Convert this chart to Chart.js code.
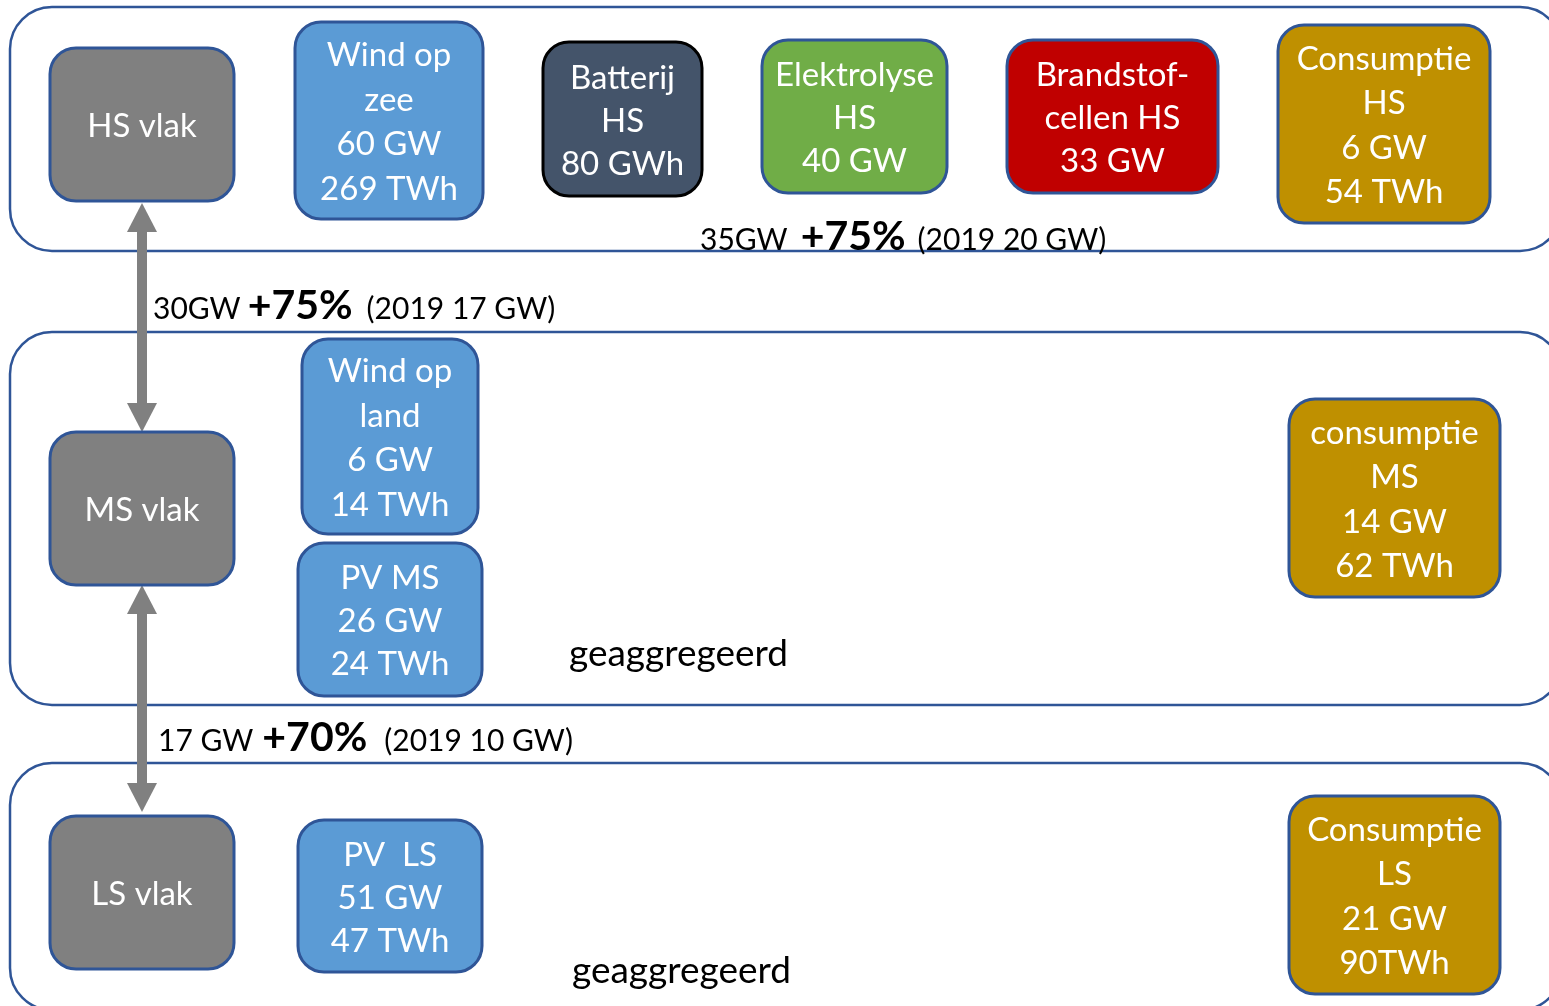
<!DOCTYPE html>
<html>
<head>
<meta charset="utf-8">
<script src="https://cdn.jsdelivr.net/npm/chart.js@4/dist/chart.umd.min.js"></script>
<style>
html,body{margin:0;padding:0;background:#fff;}
canvas{display:block;}
</style>
</head>
<body>
<canvas id="c" width="1549" height="1006"></canvas>
<script>
// ---------- DATA ----------
const levels = ['HS', 'MS', 'LS'];
const boxTitles = [
  ['HS vlak'], ['Wind op', 'zee'], ['Batterij', 'HS'], ['Elektrolyse', 'HS'],
  ['Brandstof-', 'cellen HS'], ['Consumptie', 'HS'],
  ['MS vlak'], ['Wind op', 'land'], ['PV MS'], ['consumptie', 'MS'],
  ['LS vlak'], ['PV  LS'], ['Consumptie', 'LS']
];
const boxPower  = ['', '60 GW', '', '40 GW', '33 GW', '6 GW', '', '6 GW', '26 GW', '14 GW', '', '51 GW', '21 GW'];
const boxEnergy = ['', '269 TWh', '80 GWh', '', '', '54 TWh', '', '14 TWh', '24 TWh', '62 TWh', '', '47 TWh', '90TWh'];
const linkNow    = ['35GW', '30GW', '17 GW'];
const linkGrowth = ['+75%', '+75%', '+70%'];
const linkBase   = ['(2019 20 GW)', '(2019 17 GW)', '(2019 10 GW)'];
const aggLabels  = ['geaggregeerd', 'geaggregeerd'];

// ---------- LAYOUT (positions / styles) ----------
const layerRects = [[10, 7, 1562, 251], [10, 332, 1562, 705], [10, 763, 1562, 1010]];
const boxRects = [
  [50, 48, 234, 201], [295, 22, 483, 219], [543, 42, 702, 196], [762, 40, 947, 193],
  [1007, 40, 1218, 193], [1278, 25, 1490, 223],
  [50, 432, 234, 585], [302, 339, 478, 534], [298, 543, 482, 696], [1289, 399, 1500, 597],
  [50, 816, 234, 969], [298, 820, 482, 972], [1289, 796, 1500, 994]
];
const boxFill = ['#808080', '#5B9BD5', '#44546A', '#70AD47', '#C00000', '#BF9000',
  '#808080', '#5B9BD5', '#5B9BD5', '#BF9000', '#808080', '#5B9BD5', '#BF9000'];
const boxStroke = ['#2F5597', '#2F5597', '#000000', '#2F5597', '#2F5597', '#2F5597',
  '#2F5597', '#2F5597', '#2F5597', '#2F5597', '#2F5597', '#2F5597', '#2F5597'];
const linkPos = [[700, 250], [153, 319], [158, 751]];
const linkGaps = [[13, 12], [7, 14], [9, 17]];
const arrows = [[142, 203, 432], [142, 585, 812]];
const aggPos = [[569, 654], [572, 971]];

const FONT = 'Lato, "Open Sans", sans-serif';

const drawPlugin = {
  id: 'diagram',
  afterDraw(chart) {
    const ctx = chart.ctx;
    const xs = chart.scales.x, ys = chart.scales.y;
    const X = v => xs.getPixelForValue(v), Y = v => ys.getPixelForValue(v);
    ctx.save();
    // layer containers
    ctx.lineWidth = 2.5;
    ctx.strokeStyle = '#2F5597';
    layerRects.forEach(r => {
      ctx.beginPath();
      ctx.roundRect(X(r[0]), Y(r[1]), X(r[2]) - X(r[0]), Y(r[3]) - Y(r[1]), 42);
      ctx.stroke();
    });
    // arrows
    ctx.fillStyle = '#808080';
    arrows.forEach(a => {
      const cx = X(a[0]), y0 = Y(a[1]), y1 = Y(a[2]);
      const hw = 15, hl = 29, sw = 5;
      ctx.fillRect(cx - sw, y0 + hl - 1, sw * 2, y1 - y0 - 2 * hl + 2);
      ctx.beginPath();
      ctx.moveTo(cx, y0); ctx.lineTo(cx + hw, y0 + hl); ctx.lineTo(cx - hw, y0 + hl); ctx.closePath(); ctx.fill();
      ctx.beginPath();
      ctx.moveTo(cx, y1); ctx.lineTo(cx + hw, y1 - hl); ctx.lineTo(cx - hw, y1 - hl); ctx.closePath(); ctx.fill();
    });
    // boxes
    boxRects.forEach((r, i) => {
      const x0 = X(r[0]), y0 = Y(r[1]), w = X(r[2]) - x0, h = Y(r[3]) - y0;
      ctx.beginPath();
      ctx.roundRect(x0, y0, w, h, 26);
      ctx.fillStyle = boxFill[i];
      ctx.fill();
      ctx.lineWidth = 3;
      ctx.strokeStyle = boxStroke[i];
      ctx.stroke();
      const lines = boxTitles[i].concat([boxPower[i], boxEnergy[i]].filter(s => s));
      const lh = lines.length >= 4 ? 44.5 : 43;
      ctx.fillStyle = '#ffffff';
      ctx.font = '33px ' + FONT;
      ctx.textAlign = 'center';
      ctx.textBaseline = 'middle';
      const cx = x0 + w / 2, cy = y0 + h / 2 + 2;
      lines.forEach((t, k) => {
        ctx.fillText(t, cx, cy + (k - (lines.length - 1) / 2) * lh);
      });
    });
    // link labels
    ctx.fillStyle = '#000000';
    ctx.textAlign = 'left';
    ctx.textBaseline = 'alphabetic';
    linkNow.forEach((t, i) => {
      let x = X(linkPos[i][0]);
      const y = Y(linkPos[i][1]);
      ctx.font = '30px ' + FONT;
      ctx.fillText(t, x, y);
      x += ctx.measureText(t).width + linkGaps[i][0];
      ctx.font = 'bold 41px ' + FONT;
      ctx.fillText(linkGrowth[i], x, y);
      x += ctx.measureText(linkGrowth[i]).width + linkGaps[i][1];
      ctx.font = '30px ' + FONT;
      ctx.fillText(linkBase[i], x, y);
    });
    // aggregated labels
    ctx.font = '37px ' + FONT;
    ctx.textBaseline = 'middle';
    aggLabels.forEach((t, i) => ctx.fillText(t, X(aggPos[i][0]), Y(aggPos[i][1])));
    ctx.restore();
  }
};

new Chart(document.getElementById('c'), {
  type: 'scatter',
  data: { datasets: [{ data: [], pointRadius: 0 }] },
  options: {
    responsive: false,
    animation: false,
    layout: { padding: 0 },
    plugins: { legend: { display: false }, tooltip: { enabled: false } },
    scales: {
      x: { type: 'linear', min: 0, max: 1549, display: false },
      y: { type: 'linear', min: 0, max: 1006, reverse: true, display: false }
    }
  },
  plugins: [drawPlugin]
});
</script>
</body>
</html>
